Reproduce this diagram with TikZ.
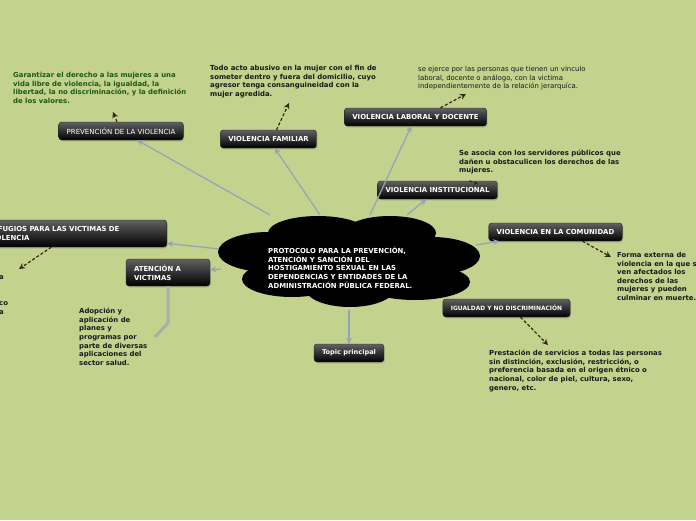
\documentclass[tikz,border=0pt]{standalone}
\usepackage{fontspec}
\setmainfont{DejaVu Sans}
\usetikzlibrary{positioning, calc, arrows.meta, shadows}

\definecolor{bgolive}{RGB}{195,210,141}
\definecolor{linkgray}{RGB}{150,162,182}
\definecolor{stemgray}{RGB}{172,172,172}
\definecolor{notebrown}{RGB}{58,36,18}
\definecolor{notegreen}{RGB}{28,88,20}

\tikzset{
  topicbox/.style={rounded corners=3pt, top color=black!62, bottom color=black, draw=black!85,
    text=white, font=\fontsize{6.9}{8.7}\selectfont\bfseries, minimum height=18pt,
    inner xsep=8pt, inner ysep=2pt,
    drop shadow={opacity=0.3, shadow xshift=1pt, shadow yshift=-1.5pt}},
  notetext/.style={font=\fontsize{6.9}{8.6}\selectfont\bfseries, align=left,
    anchor=north west, inner sep=0pt, text=black!90},
  link/.style={draw=linkgray, line width=1.2pt, -{Stealth[length=6pt,width=6pt]}},
  notearrow/.style={draw=notebrown, line width=1.2pt, dash pattern=on 3pt off 2pt,
    -{Stealth[length=6pt,width=6pt]}},
}

\begin{document}
\begin{tikzpicture}[x=1pt, y=-1pt]
    % Background
    \useasboundingbox (0,0) rectangle (696,520);
    \fill[bgolive] (0,0) rectangle (696,520);

    % Free ends on the cloud
    \coordinate (cprev) at (270,215);
    \coordinate (cfam) at (320,215);
    \coordinate (clab) at (370,215);
    \coordinate (cinst) at (407,215);
    \coordinate (ccom) at (476,245);
    \coordinate (cref) at (220,249);
    \coordinate (cate) at (221,269);
    \coordinate (ctop) at (349,310);

    % Topics
    \node[topicbox, font=\fontsize{7}{8}\selectfont] (prev) at (121,131) {PREVENCIÓN DE LA VIOLENCIA};
    \node[topicbox] (famil) at (268.5,139) {VIOLENCIA FAMILIAR};
    \node[topicbox] (labor) at (415.5,117) {VIOLENCIA LABORAL Y DOCENTE};
    \node[topicbox] (instit) at (437.5,190) {VIOLENCIA INSTITUCIONAL};
    \node[topicbox] (comun) at (555.5,232) {VIOLENCIA EN LA COMUNIDAD};
    \node[topicbox, font=\fontsize{5.9}{8}\selectfont\bfseries] (igual) at (506.5,308) {IGUALDAD Y NO DISCRIMINACIÓN};
    \node[topicbox, font=\fontsize{6.6}{8}\selectfont\bfseries] (topicp) at (349,353) {Topic principal};
    \node[topicbox, align=left, text width=68pt, minimum height=27pt] (atenc) at (168,272.5) {ATENCIÓN A\\VICTIMAS};
    \node[topicbox, align=left, text width=171pt, minimum height=27pt, anchor=east] (refug) at (167,233.5) {REFUGIOS PARA LAS VICTIMAS DE\\VIOLENCIA};

    % Links from the central topic
    \draw[link] (cprev) -- (prev);
    \draw[link] (cfam) -- (famil);
    \draw[link] (clab) -- (labor);
    \draw[link] (cinst) -- (instit);
    \draw[link] (ccom) -- (comun);
    \draw[link] (cref) -- (refug);
    \draw[link] (cate) -- (atenc);
    \draw[link] (ctop) -- (topicp);

    % Cloud
    \fill[black] (318,233) ellipse (50 and 17);
    \fill[black] (390,233) ellipse (46 and 17);
    \fill[black] (268,252) ellipse (50 and 20);
    \fill[black] (432,256) ellipse (48 and 19);
    \fill[black] (292,279) ellipse (50 and 18);
    \fill[black] (350,288) ellipse (45 and 19);
    \fill[black] (415,282) ellipse (55 and 18);
    \fill[black] (350,262) ellipse (100 and 30);
    \node[notetext, text=white] (main) at (268,247)
      {PROTOCOLO PARA LA PREVENCIÓN,\\ATENCIÓN Y SANCIÓN DEL\\HOSTIGAMIENTO SEXUAL EN LAS\\DEPENDENCIAS Y ENTIDADES DE LA\\ADMINISTRACIÓN PÚBLICA FEDERAL.};

    % Stem to the note under ATENCION
    \coordinate (adopbend) at (168,323);
    \coordinate (adopend) at (155,337);
    \draw[stemgray, line width=3pt] (atenc.south) -- (adopbend) -- (adopend);

    % Notes
    \node[notetext, text=notegreen] (nprev) at (13,72)
      {Garantizar el derecho a las mujeres a una\\vida libre de violencia, la igualdad, la\\libertad, la no discriminación, y la definición\\de los valores.};
    \node[notetext] (nfam) at (210,65)
      {Todo acto abusivo en la mujer con el fin de\\someter dentro y fuera del domicilio, cuyo\\agresor tenga consanguineidad con la\\mujer agredida.};
    \node[notetext, font=\fontsize{6.9}{8.6}\selectfont] (nlab) at (418,66)
      {se ejerce por las personas que tienen un vinculo\\laboral, docente o análogo, con la victima\\independientemente de la relación jerarquíca.};
    \node[notetext] (ninst) at (459,150)
      {Se asocia con los servidores públicos que\\dañen u obstaculicen los derechos de las\\mujeres.};
    \node[notetext] (ncom) at (617,252)
      {Forma externa de\\violencia en la que se\\ven afectados los\\derechos de las\\mujeres y pueden\\culminar en muerte.};
    \node[notetext] (nigual) at (489,350)
      {Prestación de servicios a todas las personas\\sin distinción, exclusión, restricción, o\\preferencia basada en el origen étnico o\\nacional, color de piel, cultura, sexo,\\genero, etc.};
    \node[notetext] (nadop) at (79,308)
      {Adopción y\\aplicación de\\planes y\\programas por\\parte de diversas\\aplicaciones del\\sector salud.};
    \node[notetext, anchor=base west] (nref1) at (-1,279) {a};
    \node[notetext, anchor=base west] (nref2) at (-1,305) {co};
    \node[notetext, anchor=base west] (nref3) at (-1,314) {a};

    % Note arrows
    \coordinate (aprev) at (113,112);
    \coordinate (afam) at (289,103);
    \coordinate (alab) at (466,94);
    \coordinate (ainst) at (478,184);
    \coordinate (acom) at (611,257);
    \coordinate (aigual) at (548,345);
    \coordinate (aref) at (19,269);
    \draw[notearrow] ([xshift=-4pt]prev.north) -- (aprev);
    \draw[notearrow] ([xshift=8pt]famil.north) -- (afam);
    \draw[notearrow] ([xshift=25pt]labor.north) -- (alab);
    \draw[notearrow, -{Stealth[length=4pt,width=4pt]}] ([xshift=32pt]instit.north) -- (ainst);
    \draw[notearrow] ([xshift=27pt]comun.south) -- (acom);
    \draw[notearrow] ([xshift=14pt]igual.south) -- (aigual);
    \draw[notearrow] ([xshift=-22pt]refug.south) -- (aref);
\end{tikzpicture}
\end{document}
